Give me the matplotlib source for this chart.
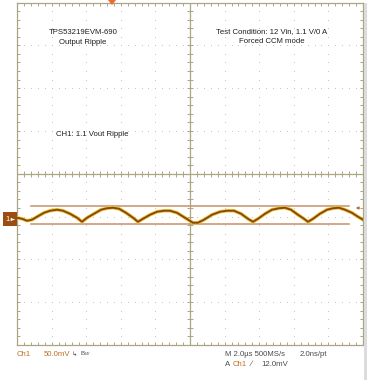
import numpy as np
import matplotlib
matplotlib.use("Agg")
import matplotlib.pyplot as plt
from matplotlib.patches import Rectangle, Polygon

plt.rcParams['font.family'] = ['Liberation Sans', 'DejaVu Sans']

# scope settings: 2 us/div, 50 mV/div, 10 x 8 divisions
t_div = 2.0
v_div = 50.0

# Ch1 trace (time in us, voltage in mV)
trace_t = [-10.0, -9.71, -9.42, -9.13, -8.84, -8.44, -8.09, -7.69, -7.34, -6.94,
           -6.53, -6.24, -5.95, -5.55, -5.14, -4.80, -4.45, -4.10, -3.70, -3.29,
           -3.01, -2.72, -2.31, -1.91, -1.50, -1.16, -0.75, -0.29, 0.17, 0.46,
           0.81, 1.27, 1.73, 2.14, 2.54, 2.95, 3.35, 3.64, 3.93, 4.34,
           4.74, 5.14, 5.49, 5.84, 6.24, 6.59, 6.82, 7.11, 7.51, 7.92,
           8.27, 8.61, 8.96, 9.36, 9.71, 10.0]
trace_v = [-51.4, -52.6, -54.9, -53.7, -50.2, -45.6, -43.2, -42.0, -43.2, -46.7,
           -51.4, -56.1, -51.4, -46.7, -42.0, -40.3, -39.7, -40.9, -45.6, -51.4,
           -56.1, -52.6, -47.9, -44.4, -43.2, -43.2, -45.6, -51.4, -57.2, -57.2,
           -53.7, -47.9, -44.4, -43.2, -43.2, -46.7, -52.6, -56.1, -52.6, -46.7,
           -42.0, -40.3, -39.7, -42.0, -47.9, -52.6, -56.1, -52.6, -46.7, -42.0,
           -40.3, -39.7, -42.0, -45.6, -50.2, -53.7]

# horizontal cursors (mV) and their extent (us)
cursor_v = [-38.2, -58.8]
cursor_t = [-9.2, 9.2]

W, H = 367, 380
fig = plt.figure(figsize=(W / 100, H / 100), dpi=100)

# screen area in pixels
x0, x1, y0, y1 = 17, 363, 2.5, 345
ax = fig.add_axes([x0 / W, 1 - y1 / H, (x1 - x0) / W, (y1 - y0) / H])
ax.set_xlim(-5 * t_div, 5 * t_div)
ax.set_ylim(-4 * v_div, 4 * v_div)
grid_c = '#aaa684'
dot_c = '#c6c2b4'
for s in ax.spines.values():
    s.set_color(grid_c)
    s.set_linewidth(0.9)
ax.set_xticks(np.arange(-10, 10.01, 0.4))
ax.set_yticks(np.arange(-200, 200.01, 10))
ax.tick_params(which='both', direction='in', length=2.2, width=0.7, color=grid_c,
               top=True, right=True, labelbottom=False, labelleft=False)

# dotted graticule
for gx in np.arange(-8, 8.01, 2):
    if abs(gx) > 0.01:
        yy = np.arange(-200, 200.01, 10)
        ax.plot(np.full_like(yy, gx), yy, ls='none', marker='s', ms=0.7,
                mec='none', mfc=dot_c, zorder=1)
for gy in np.arange(-150, 150.01, 50):
    if abs(gy) > 0.01:
        xx = np.arange(-10, 10.01, 0.4)
        ax.plot(xx, np.full_like(xx, gy), ls='none', marker='s', ms=0.7,
                mec='none', mfc=dot_c, zorder=1)

# center cross with ticks
ax.axhline(0, color=grid_c, lw=0.9, zorder=1)
ax.axvline(0, color=grid_c, lw=0.9, zorder=1)
xx = np.arange(-10, 10.01, 0.4)
ax.plot(xx, np.zeros_like(xx), ls='none', marker='|', ms=4.5, mew=0.7, color=grid_c, zorder=1)
yy = np.arange(-200, 200.01, 10)
ax.plot(np.zeros_like(yy), yy, ls='none', marker='_', ms=4.5, mew=0.7, color=grid_c, zorder=1)

# cursors
for cv in cursor_v:
    ax.plot(cursor_t, [cv, cv], color='#c8906a', lw=1.1, zorder=2)

# trace: yellow noise halo then brown core
ax.plot(trace_t, trace_v, color='#e6c81e', lw=2.6, alpha=0.85, zorder=3,
        solid_joinstyle='round')
ax.plot(trace_t, trace_v, color='#8e4610', lw=1.4, zorder=4, solid_joinstyle='round')

# on-screen labels
fs = 5.6
tc = '#1e1e1e'
ax.text(-6.18, 164.7, 'TPS53219EVM-690', ha='center', va='center', fontsize=fs, color=tc)
ax.text(-6.18, 153.0, 'Output Ripple', ha='center', va='center', fontsize=fs, color=tc)
ax.text(4.74, 165.5, 'Test Condition: 12 Vin, 1.1 V/0 A', ha='center', va='center',
        fontsize=fs, color=tc)
ax.text(4.74, 154.5, 'Forced CCM mode', ha='center', va='center', fontsize=fs, color=tc)
ax.text(-5.66, 45.6, 'CH1: 1.1 Vout Ripple', ha='center', va='center', fontsize=fs, color=tc)

# pixel overlay for markers and readouts
ov = fig.add_axes([0, 0, 1, 1])
ov.set_xlim(0, W)
ov.set_ylim(H, 0)
ov.axis('off')
ov.patch.set_visible(False)

ov.add_patch(Rectangle((363.5, 3), 3, H - 3, color='#dcdcdc', lw=0))
ov.add_patch(Rectangle((3, 212), 14, 14, color='#9c4e12', lw=0))
ov.text(7.5, 219.5, '1', color='white', fontsize=5.5, ha='center', va='center')
ov.annotate('', xy=(17, 219.5), xytext=(11, 219.5),
            arrowprops=dict(arrowstyle='-|>', color='white', lw=0.6, mutation_scale=4))
ov.annotate('', xy=(353, 208), xytext=(362, 208),
            arrowprops=dict(arrowstyle='-|>', color='#c06a28', lw=0.7, mutation_scale=4))
ov.add_patch(Polygon([[108, 0], [116, 0], [112, 5]], color='#f06a30', lw=0))

orange = '#c0701e'
gray = '#4a4a4a'
bfs = 5.6
ov.text(17, 354, 'Ch1', color=orange, fontsize=bfs, va='center')
ov.text(44, 354, '50.0mV', color=orange, fontsize=bfs, va='center')
ov.text(72, 354, '\u21b3', color=gray, fontsize=4.5, va='center')
ov.text(80, 354, 'B$_W$', color=gray, fontsize=4.5, va='center')
ov.text(225, 354, 'M 2.0\u00b5s 500MS/s', color=gray, fontsize=bfs, va='center')
ov.text(300, 354, '2.0ns/pt', color=gray, fontsize=bfs, va='center')
ov.text(225, 364, 'A', color=gray, fontsize=bfs, va='center')
ov.text(233, 364, 'Ch1', color=orange, fontsize=bfs, va='center')
ov.text(251, 364, '\u2215', color=gray, fontsize=bfs, va='center')
ov.text(261, 364, '12.0mV', color=gray, fontsize=bfs, va='center')

fig.savefig('out.png', dpi=100)
